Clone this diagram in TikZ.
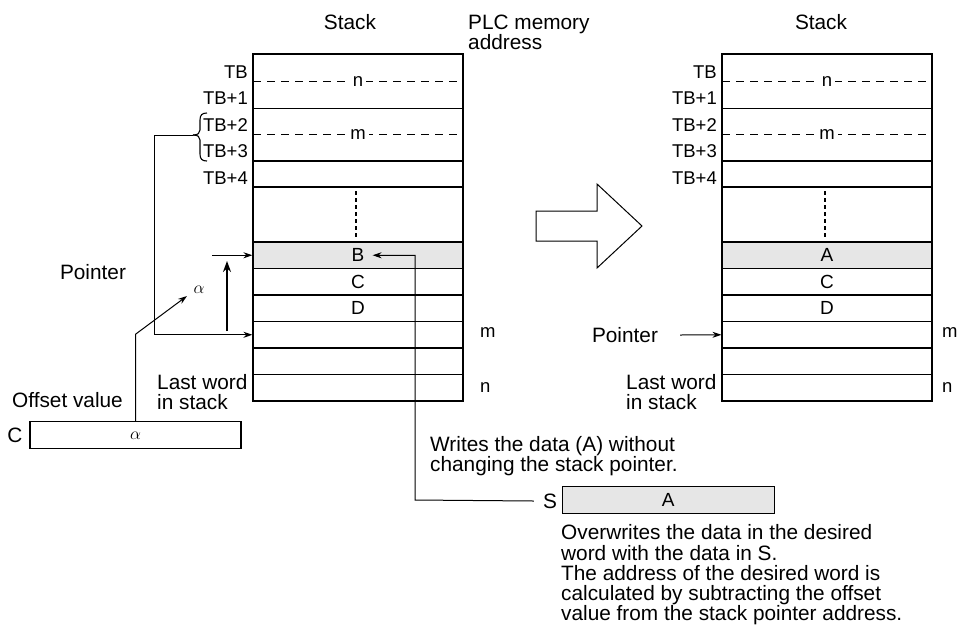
\documentclass[tikz,border=0pt]{standalone}
\usepackage{fontspec}
\setmainfont{Liberation Sans}
\usetikzlibrary{arrows.meta}
\definecolor{shade}{HTML}{E6E6E6}
\begin{document}
\begin{tikzpicture}[x=1pt,y=-1pt,
  txt/.style={font=\fontsize{20.8}{20.3}\selectfont, inner sep=0pt},
  tbtxt/.style={font=\fontsize{18.5}{20}\selectfont, inner sep=0pt},
  thinline/.style={line width=1.1pt},
  thickline/.style={line width=2pt},
  cell/.style={draw, thinline, minimum width=210pt, minimum height=26.5pt, inner sep=0pt, font=\fontsize{19}{20}\selectfont},
  dashline/.style={line width=1.1pt, dash pattern=on 8pt off 6pt},
  arr/.style={line width=1pt, -{Stealth[length=9pt,width=6pt]}},
  bigarr/.style={line width=2.6pt, -{Stealth[length=11pt,width=8pt]}}
]
\useasboundingbox (0,0) rectangle (960,625);

% ---------- stack macro ----------
\newcommand{\stackpic}[4]{%
\begin{scope}[shift={(#2,0)}]
  \node[cell, fill=shade] (#1rB) at (105,255.25) {};
  \node[tbtxt, font=\fontsize{19}{20}\selectfont] (#1tB) at (105,255.25) {#3};
  \node[cell] (#1rC) at (105,281.75) {C};
  \node[cell] (#1rD) at (105,308.25) {D};
  \node[cell] (#1rm) at (105,334.75) {};
  \node[cell] (#1r6) at (105,361.25) {};
  \node[cell] (#1rn) at (105,387.75) {};
  \draw[thinline] (0,108.5) -- (210,108.5);
  \draw[thinline] (0,187) -- (210,187);
  \draw[dashline] (0,81.5) -- (210,81.5);
  \draw[dashline] (0,134.5) -- (210,134.5);
  \node[tbtxt, fill=white, inner xsep=3pt] (#1nlab) at (105,81.5) {n};
  \node[tbtxt, fill=white, inner xsep=3pt] (#1mlab) at (105,134.5) {m};
  \draw[line width=1.6pt, dash pattern=on 3.5pt off 3.5pt] (103,191) -- (103,238);
  \draw[thickline] (0,54) rectangle (210,401);
  \draw[thickline] (0,160.5) -- (210,160.5);
  \draw[line width=1.6pt] (0,321.5) -- (210,321.5);
  \draw[line width=1.6pt] (0,348) -- (210,348);
  \node[tbtxt, anchor=east] (#1tb0) at (-5,71.7) {TB};
  \node[tbtxt, anchor=east] (#1tb1) at (-5,98) {TB+1};
  \node[tbtxt, anchor=east] (#1tb2) at (-5,125) {TB+2};
  \node[tbtxt, anchor=east] (#1tb3) at (-5,151) {TB+3};
  \node[tbtxt, anchor=east] (#1tb4) at (-5,177.7) {TB+4};
  \node[tbtxt, anchor=west] (#1mr) at (#4,333) {m};
  \node[tbtxt, anchor=west] (#1nr) at (#4,388) {n};
  \node[txt, anchor=west, align=left] (#1last) at (-96,392) {Last word\\in stack};
\end{scope}}

\stackpic{L}{253}{B}{227}
\stackpic{R}{722}{A}{220}

% ---------- titles ----------
\node[txt] (stackL) at (350,22) {Stack};
\node[txt] (stackR) at (821,22) {Stack};
\node[txt, anchor=west, align=left] (plc) at (468,32) {PLC memory\\address};

% ---------- brace ----------
\draw[thinline] (207,113) .. controls (202,113) and (200,115) .. (200,120) -- (200,130) .. controls (200,133) and (198,135) .. (193,135);
\draw[thinline] (207,161) .. controls (202,161) and (200,159) .. (200,154) -- (200,140) .. controls (200,137) and (198,135) .. (193,135);
\coordinate (brtip) at (193,135);
\coordinate (bend) at (154,135);
\draw[arr] (brtip) -- (bend) |- (Lrm.west);

% ---------- pointer arrows ----------
\node[txt] (ptrL) at (93,272) {Pointer};
\coordinate (ptrfrom) at (212,255.25);
\draw[arr] (ptrfrom) -- (LrB.west);
\coordinate (upfrom) at (227,331);
\coordinate (upto) at (227,261);
\draw[bigarr] (upfrom) -- (upto);

% ---------- offset ----------
\node[txt, anchor=west] (offs) at (12,400) {Offset value};
\node[txt] (clab) at (15,435) {C};
\node[draw, thinline, minimum width=211pt, minimum height=27pt, inner sep=0pt, font=\fontsize{18}{18}\selectfont] (cbox) at (135.5,435.3) {$\alpha$};
\coordinate (alphatip) at (187,296);
\draw[arr] (cbox.north) -- ++(0,-87) -- (alphatip);
\node[inner sep=0pt, font=\fontsize{18}{18}\selectfont] (alab) at (199,290) {$\alpha$};

% ---------- big hollow arrow ----------
\draw[line width=1pt] (536,211) -- (597,211) -- (597,184) -- (642,226) -- (597,268) -- (597,241) -- (536,241) -- cycle;

% ---------- right pointer ----------
\node[txt] (ptrR) at (625,335) {Pointer};
\draw[arr] ([xshift=22pt]ptrR.east) -- (Rrm.west);

% ---------- S box ----------
\node[txt, anchor=west, align=left] (writes) at (430,456) {Writes the data (A) without\\changing the stack pointer.};
\node[draw, thinline, fill=shade, minimum width=212pt, minimum height=26.5pt, inner sep=0pt, font=\fontsize{19}{20}\selectfont] (sbox) at (668.3,500) {A};
\node[txt] (slab) at (550,501) {S};
\draw[arr] ([xshift=-9pt]slab.west) -- (415,500) |- ([xshift=8pt]LtB.east);

\node[txt, anchor=west, align=left] (over) at (561,575) {Overwrites the data in the desired\\word with the data in S.\\The address of the desired word is\\calculated by subtracting the offset\\value from the stack pointer address.};
\end{tikzpicture}
\end{document}
